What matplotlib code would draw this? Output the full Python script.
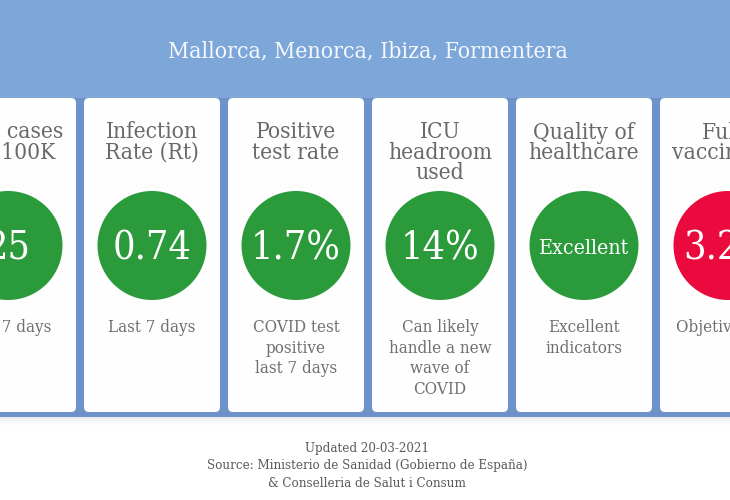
import matplotlib
matplotlib.use("Agg")
import matplotlib.pyplot as plt
from matplotlib import font_manager as fm
from matplotlib.patches import FancyBboxPatch, Rectangle, Circle

# ---------------- data ----------------
region_title = "Mallorca, Menorca, Ibiza, Formentera"
card_titles = ["New cases\nper 100K", "Infection\nRate (Rt)", "Positive\ntest rate",
               "ICU\nheadroom\nused", "Quality of\nhealthcare", "Fully\nvaccinated"]
card_values = ["25", "0.74", "1.7%", "14%", "Excellent", "3.2%"]
card_status = ["good", "good", "good", "good", "good", "bad"]
card_notes = ["Last 7 days", "Last 7 days", "COVID test\npositive\nlast 7 days",
              "Can likely\nhandle a new\nwave of\nCOVID", "Excellent\nindicators", "Objetivo 70%"]
footer_lines = ["Updated 20-03-2021",
                "Source: Ministerio de Sanidad (Gobierno de España)",
                "& Conselleria de Salut i Consum"]

# ---------------- style ----------------
W, H = 730, 500
HEADER_BLUE = "#7da6d9"
GAP_BLUE = "#6c93c9"
STATUS_COLORS = {"good": "#2b9a3b", "bad": "#ea0a3d"}
TITLE_GRAY = "#696969"
NOTE_GRAY = "#707070"
FOOT_GRAY = "#5a5a5a"

# font: prefer DejaVu Serif Condensed
def pick_font():
    try:
        p = fm.findfont(fm.FontProperties(family="DejaVu Serif", stretch="condensed"),
                        fallback_to_default=False)
        if "Condensed" in p:
            return p
    except Exception:
        pass
    return fm.findfont(fm.FontProperties(family="DejaVu Serif"))

FONT_PATH = pick_font()

fig = plt.figure(figsize=(W / 100, H / 100), dpi=100)
ax = fig.add_axes([0, 0, 1, 1])
ax.set_xlim(0, W)
ax.set_ylim(H, 0)
ax.axis("off")
fig.patch.set_facecolor("white")
renderer = fig.canvas.get_renderer()


def fp(size):
    return fm.FontProperties(fname=FONT_PATH, size=size)


def fit_size(text, target_px):
    t = ax.text(0, 0, text, fontproperties=fp(20))
    w = t.get_window_extent(renderer=renderer).width
    t.remove()
    return 20 * target_px / w


title_size = fit_size(region_title, 400)
head_size = fit_size("headroom", 104)
value_size = fit_size("0.74", 79)
word_value_size = fit_size("Excellent", 90)
note_size = fit_size("handle a new", 103)
foot_size = fit_size(footer_lines[1], 319)

# header band
ax.add_patch(Rectangle((0, 0), W, 417, facecolor=HEADER_BLUE, edgecolor="none", zorder=0))
ax.add_patch(Rectangle((0, 98), W, 319, facecolor=GAP_BLUE, edgecolor="none", zorder=0.5))
# soft shadow below band
for k, a in enumerate([0.25, 0.14, 0.07, 0.03]):
    ax.add_patch(Rectangle((0, 417 + k * 2), W, 2, facecolor="#aab4c2", alpha=a,
                           edgecolor="none", zorder=0.4))

ax.text(368, 57, region_title, fontproperties=fp(title_size), color="#f4f8fd",
        ha="center", va="baseline", zorder=3)

# cards
CARD_W, CARD_STEP, CARD_X0 = 136, 144, -60
CARD_TOP, CARD_BOT = 98, 412
CIRCLE_Y, CIRCLE_R = 245.5, 54.5
for i, (ttl, val, st, note) in enumerate(zip(card_titles, card_values, card_status, card_notes)):
    x0 = CARD_X0 + i * CARD_STEP
    cx = x0 + CARD_W / 2
    ax.add_patch(FancyBboxPatch((x0, CARD_TOP), CARD_W, CARD_BOT - CARD_TOP,
                                boxstyle="round,pad=0,rounding_size=5",
                                facecolor="#fefefe", edgecolor="none", zorder=1))
    for j, line in enumerate(ttl.split("\n")):
        ax.text(cx, 138.5 + 20.2 * j, line, fontproperties=fp(head_size), color=TITLE_GRAY,
                ha="center", va="baseline", zorder=3)
    ax.add_patch(Circle((cx, CIRCLE_Y), CIRCLE_R, facecolor=STATUS_COLORS[st],
                        edgecolor="none", zorder=2))
    if val.replace(".", "").replace("%", "").isdigit():
        ax.text(cx, 260, val, fontproperties=fp(value_size), color="white",
                ha="center", va="baseline", zorder=3)
    else:
        ax.text(cx, 254, val, fontproperties=fp(word_value_size), color="white",
                ha="center", va="baseline", zorder=3)
    for j, line in enumerate(note.split("\n")):
        ax.text(cx, 332 + 20.6 * j, line, fontproperties=fp(note_size), color=NOTE_GRAY,
                ha="center", va="baseline", zorder=3)

for j, line in enumerate(footer_lines):
    ax.text(367, 452 + 17.5 * j, line, fontproperties=fp(foot_size), color=FOOT_GRAY,
            ha="center", va="baseline", zorder=3)

fig.savefig("out.png", dpi=100, facecolor="white")
